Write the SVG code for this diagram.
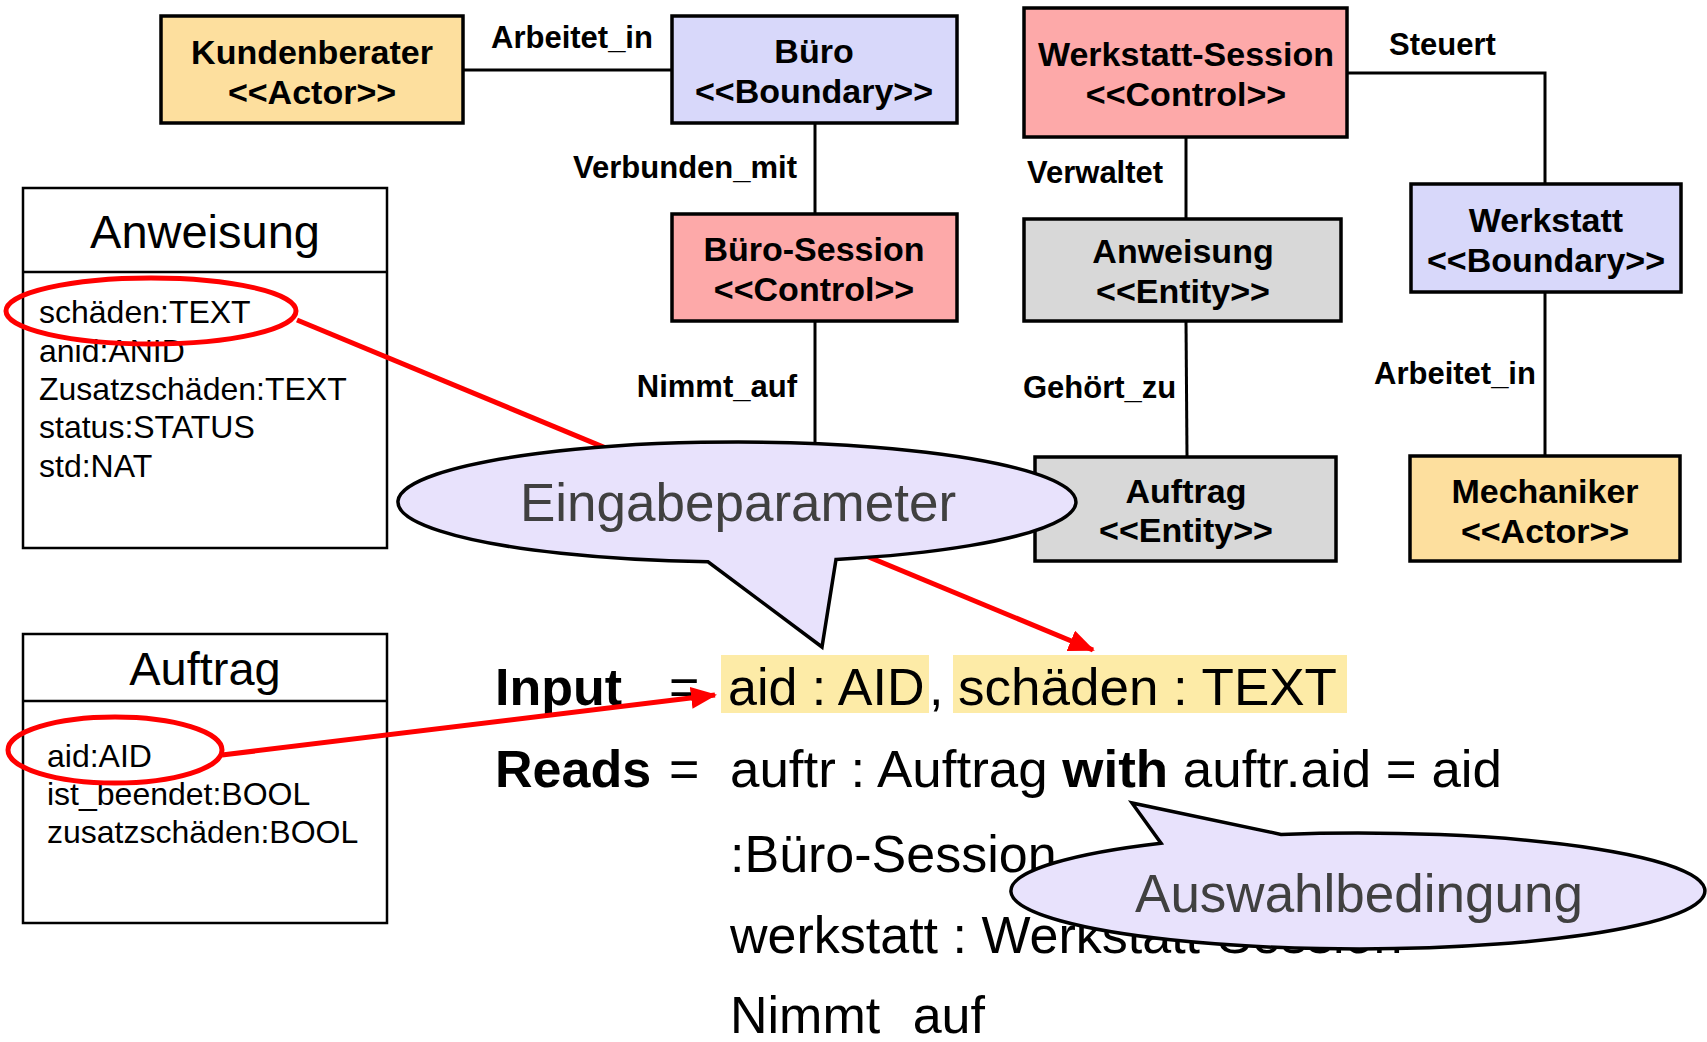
<svg xmlns="http://www.w3.org/2000/svg" width="1707" height="1042" viewBox="0 0 1707 1042">
<style>
text{font-family:"Liberation Sans",Arial,sans-serif}
.node rect{stroke:#000;stroke-width:3.5}
.nl{font-size:34px;font-weight:bold;text-anchor:middle;fill:#000}
.cl{font-size:31px;font-weight:bold;fill:#000}
.conn line,.conn polyline{stroke:#000;stroke-width:3;fill:none}
.cls rect{fill:#fff;stroke:#000;stroke-width:2.5}
.cls line{stroke:#000;stroke-width:2.5}
.ct{font-size:47px;text-anchor:middle}
.at{font-size:32px}
.actor{fill:#FDDF9E}
.bound{fill:#D8D8FA}
.ctrl{fill:#FDA9A9}
.ent{fill:#D8D8D8}
.red{stroke:#F00;stroke-width:5;fill:none}
.callout{fill:#E8E2FC;stroke:#000;stroke-width:3.5}
.cot{font-size:53px;fill:#404040;text-anchor:middle}
.big{font-size:52px;fill:#000}
.hl{fill:#FDEBA7}
</style>
<defs>
<marker id="ar" markerUnits="userSpaceOnUse" markerWidth="26" markerHeight="22" refX="24" refY="11" orient="auto">
<path d="M0,0 L26,11 L0,22 Z" fill="#F00"/>
</marker>
</defs>

<g id="class-anweisung" class="cls">
<rect x="23" y="188" width="364" height="360"/>
<line x1="23" y1="272" x2="387" y2="272"/>
<text class="ct" x="205" y="248">Anweisung</text>
<text class="at" x="39" y="323">schäden:TEXT</text>
<text class="at" x="39" y="362">anid:ANID</text>
<text class="at" x="39" y="400">Zusatzschäden:TEXT</text>
<text class="at" x="39" y="438">status:STATUS</text>
<text class="at" x="39" y="477">std:NAT</text>
</g>

<g id="class-auftrag" class="cls">
<rect x="23" y="634" width="364" height="289"/>
<line x1="23" y1="701" x2="387" y2="701"/>
<text class="ct" x="205" y="685">Auftrag</text>
<text class="at" x="47" y="767">aid:AID</text>
<text class="at" x="47" y="805">ist_beendet:BOOL</text>
<text class="at" x="47" y="843">zusatzschäden:BOOL</text>
</g>

<g id="connectors" class="conn">
<line x1="463" y1="70" x2="672" y2="70"/>
<line x1="815" y1="123" x2="815" y2="214"/>
<line x1="815" y1="321" x2="815" y2="450"/>
<line x1="1186" y1="137" x2="1186" y2="219"/>
<line x1="1186" y1="321" x2="1187" y2="457"/>
<polyline points="1347,73 1545,73 1545,184"/>
<line x1="1545" y1="292" x2="1545" y2="456"/>
<text class="cl" x="491" y="48">Arbeitet_in</text>
<text class="cl" x="797" y="178" text-anchor="end">Verbunden_mit</text>
<text class="cl" x="797" y="397" text-anchor="end">Nimmt_auf</text>
<text class="cl" x="1027" y="183">Verwaltet</text>
<text class="cl" x="1023" y="398">Gehört_zu</text>
<text class="cl" x="1389" y="55">Steuert</text>
<text class="cl" x="1374" y="384">Arbeitet_in</text>
</g>

<g id="node-kundenberater" class="node">
<rect class="actor" x="161" y="16" width="302" height="107"/>
<text class="nl" x="312" y="64">Kundenberater</text>
<text class="nl" x="312" y="104">&lt;&lt;Actor&gt;&gt;</text>
</g>
<g id="node-buero" class="node">
<rect class="bound" x="672" y="16" width="285" height="107"/>
<text class="nl" x="814" y="63">Büro</text>
<text class="nl" x="814" y="103">&lt;&lt;Boundary&gt;&gt;</text>
</g>
<g id="node-buero-session" class="node">
<rect class="ctrl" x="672" y="214" width="285" height="107"/>
<text class="nl" x="814" y="261">Büro-Session</text>
<text class="nl" x="814" y="301">&lt;&lt;Control&gt;&gt;</text>
</g>
<g id="node-werkstatt-session" class="node">
<rect class="ctrl" x="1024" y="8" width="323" height="129"/>
<text class="nl" x="1186" y="66">Werkstatt-Session</text>
<text class="nl" x="1186" y="106">&lt;&lt;Control&gt;&gt;</text>
</g>
<g id="node-anweisung" class="node">
<rect class="ent" x="1024" y="219" width="317" height="102"/>
<text class="nl" x="1183" y="263">Anweisung</text>
<text class="nl" x="1183" y="303">&lt;&lt;Entity&gt;&gt;</text>
</g>
<g id="node-auftrag" class="node">
<rect class="ent" x="1035" y="457" width="301" height="104"/>
<text class="nl" x="1186" y="503">Auftrag</text>
<text class="nl" x="1186" y="542">&lt;&lt;Entity&gt;&gt;</text>
</g>
<g id="node-werkstatt" class="node">
<rect class="bound" x="1411" y="184" width="270" height="108"/>
<text class="nl" x="1546" y="232">Werkstatt</text>
<text class="nl" x="1546" y="272">&lt;&lt;Boundary&gt;&gt;</text>
</g>
<g id="node-mechaniker" class="node">
<rect class="actor" x="1410" y="456" width="270" height="105"/>
<text class="nl" x="1545" y="503">Mechaniker</text>
<text class="nl" x="1545" y="543">&lt;&lt;Actor&gt;&gt;</text>
</g>

<g id="highlights">
<ellipse class="red" cx="151" cy="311" rx="145" ry="33"/>
<ellipse class="red" cx="115" cy="750" rx="107" ry="33"/>
<line class="red" x1="297" y1="320" x2="1093" y2="650" marker-end="url(#ar)"/>
</g>

<g id="callout-eingabeparameter">
<path class="callout" d="M708,561.8 A339,60 0 1 1 836,559.4 L822,647 Z"/>
<text class="cot" x="738" y="521">Eingabeparameter</text>
</g>

<g id="spec">
<rect class="hl" x="721" y="655" width="208" height="58"/>
<rect class="hl" x="953" y="655" width="394" height="58"/>
<text class="big" x="495" y="705" font-weight="bold">Input</text>
<text class="big" x="669" y="705">=</text>
<text class="big" x="728" y="705" fill="#5A4800">aid : AID</text>
<text class="big" x="929" y="705">,</text>
<text class="big" x="958" y="705" fill="#5A4800" textLength="379" lengthAdjust="spacingAndGlyphs">schäden : TEXT</text>
<text class="big" x="495" y="787" font-weight="bold">Reads</text>
<text class="big" x="669" y="787">=</text>
<text class="big" x="730" y="787" textLength="772" lengthAdjust="spacingAndGlyphs">auftr : Auftrag <tspan font-weight="bold">with</tspan> auftr.aid = aid</text>
<text class="big" x="730" y="872">:Büro-Session</text>
<text class="big" x="730" y="953">werkstatt : Werkstatt-Session</text>
<text class="big" x="730" y="1033" word-spacing="18">Nimmt auf</text>
</g>

<line class="red" x1="222" y1="755" x2="715" y2="695" marker-end="url(#ar)"/>

<g id="callout-auswahlbedingung">
<path class="callout" d="M1281,834.4 A347,58 0 1 1 1161,843.2 L1132,803 Z"/>
<text class="cot" x="1359" y="912">Auswahlbedingung</text>
</g>
</svg>
